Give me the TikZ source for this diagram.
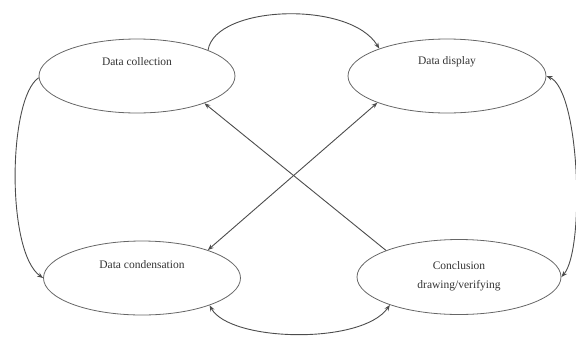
\documentclass[tikz,border=0pt]{standalone}
\usepackage{fontspec}
\setmainfont{Liberation Serif}
\usetikzlibrary{shapes.geometric,arrows.meta}
\begin{document}
\begin{tikzpicture}[x=1pt,y=-1pt,
  oval/.style={ellipse,draw=black!60,line width=0.8pt,inner sep=0pt},
  lbl/.style={font=\fontsize{11.5}{19}\selectfont,text=black!80,align=center},
  conn/.style={draw=black!70,line width=0.9pt},
  tip/.style={-{Stealth[length=6pt,width=4.5pt]}},
  tips/.style={{Stealth[length=6pt,width=4.5pt]}-{Stealth[length=6pt,width=4.5pt]}}]
\useasboundingbox (0,0) rectangle (576,338);
\node[oval,minimum width=196pt,minimum height=74pt] (dc) at (137,76) {};
\node[oval,minimum width=198pt,minimum height=74pt] (dd) at (447,76) {};
\node[oval,minimum width=197pt,minimum height=74pt] (dn) at (142,278) {};
\node[oval,minimum width=204pt,minimum height=75pt] (cv) at (459,277) {};
\node[lbl] (tdc) at (137,62) {Data collection};
\node[lbl] (tdd) at (447,62) {Data display};
\node[lbl] (tdn) at (142,265) {Data condensation};
\node[lbl] (tcv) at (459,276) {Conclusion\\drawing/verifying};
% top arc
\draw[conn,tip] (dc.20) .. controls (215,5) and (350,0) .. (dd.158);
% left arc
\draw[conn,tip] (dc.181) .. controls (8,98) and (6,252) .. (dn.180);
% right arc
\draw[conn,tips] (dd.0) .. controls (580,90) and (585,250) .. (cv.0);
% bottom arc
\draw[conn,tips] (dn.338) .. controls (230,342) and (362,345) .. (cv.202);
% diagonals
\draw[conn,tip] (cv.160) -- (dc.338);
\draw[conn,tips] (dd.201) -- (dn.23);
\end{tikzpicture}
\end{document}
